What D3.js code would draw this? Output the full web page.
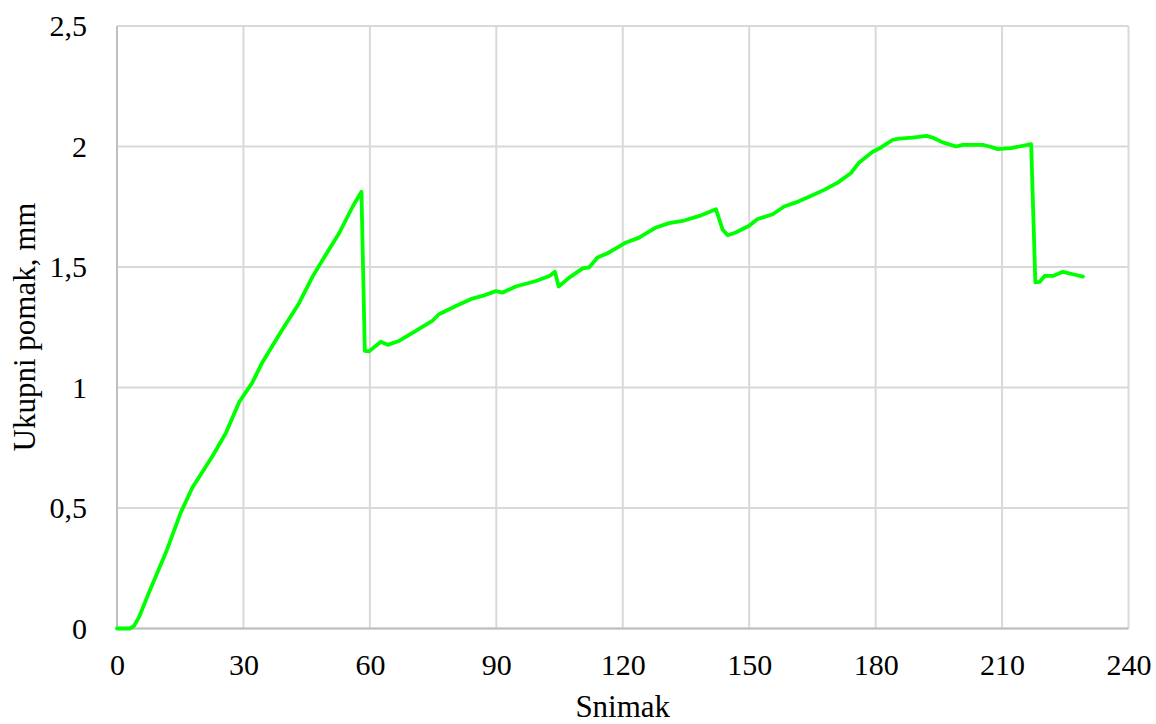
<!DOCTYPE html>
<html>
<head>
<meta charset="utf-8">
<script src="https://cdn.jsdelivr.net/npm/d3@7"></script>
<style>
  html, body { margin: 0; padding: 0; background: #fff; }
  text { font-family: "Liberation Serif", "Times New Roman", serif; fill: #000; }
</style>
</head>
<body>
<div id="chart"></div>
<script>
// frame number (Snimak) and total displacement (Ukupni pomak, mm)
const snimak = [0, 3, 4, 5.2, 7.6, 11.6, 15.1, 17.9, 22.6, 25.8, 29, 32.1, 34.5, 39.2, 43.2, 46.4, 49.5, 52.7, 55.9, 58,
  58.8, 59.8, 62.6, 64.2, 66.9, 70.9, 74.8, 76.4, 80.4, 84.3, 86.7, 89.9, 91.5, 94.6, 99.4, 102.6, 103.9,
  104.8, 107.3, 110.5, 112, 114, 116.4, 118.4, 120.8, 123.9, 127.9, 131, 134.2, 138.2, 142.1,
  143.7, 144.9, 146.8, 150, 152, 155.6, 158.3, 161.1, 165, 167.8, 171, 174.1, 176.1, 179.3, 181.3,
  184.1, 185.6, 188.8, 192, 193.5, 195.9, 199.1, 200.7, 205.4, 207, 209, 212.1, 214.1, 216.9,
  217.9, 218.9, 220.1, 222.1, 224.4, 226.8, 229.2];
const pomak = [0, 0, 0.01, 0.046, 0.15, 0.315, 0.48, 0.585, 0.714, 0.81, 0.94, 1.02, 1.105, 1.24, 1.35, 1.46, 1.55, 1.64, 1.75, 1.812,
  1.152, 1.15, 1.19, 1.177, 1.193, 1.235, 1.276, 1.304, 1.338, 1.369, 1.38, 1.40, 1.394, 1.419, 1.442, 1.463, 1.48,
  1.419, 1.456, 1.494, 1.498, 1.539, 1.557, 1.577, 1.602, 1.622, 1.664, 1.682, 1.691, 1.712, 1.74,
  1.655, 1.632, 1.643, 1.671, 1.699, 1.719, 1.751, 1.768, 1.798, 1.82, 1.85, 1.889, 1.934, 1.978, 1.996,
  2.028, 2.033, 2.037, 2.044, 2.037, 2.017, 2.0, 2.007, 2.007, 2.0, 1.989, 1.993, 2.0, 2.01,
  1.436, 1.438, 1.463, 1.463, 1.48, 1.47, 1.46];

const xTicks = [0, 30, 60, 90, 120, 150, 180, 210, 240];
const yTicks = [0, 0.5, 1, 1.5, 2, 2.5];

const width = 1156,
  height = 724;
const margin = { top: 26, right: 27.5, bottom: 95.5, left: 117 };
const innerW = width - margin.left - margin.right,
  innerH = height - margin.top - margin.bottom;

const svg = d3.select("#chart")
  .append("svg")
  .attr("width", width)
  .attr("height", height);

const g = svg.append("g")
  .attr("transform", `translate(${margin.left},${margin.top})`);

const x = d3.scaleLinear().domain([0, 240]).range([0, innerW]);
const y = d3.scaleLinear().domain([0, 2.5]).range([innerH, 0]);

const fmt = d => String(d).replace(".", ",");

// gridlines
g.append("g")
  .selectAll("line.vg")
  .data(xTicks)
  .join("line")
  .attr("x1", d => x(d)).attr("x2", d => x(d))
  .attr("y1", 0).attr("y2", innerH)
  .attr("stroke", "#d9d9d9")
  .attr("stroke-width", 2);

g.append("g")
  .selectAll("line.hg")
  .data(yTicks)
  .join("line")
  .attr("x1", 0).attr("x2", innerW)
  .attr("y1", d => y(d)).attr("y2", d => y(d))
  .attr("stroke", "#d9d9d9")
  .attr("stroke-width", 2);

// axis lines
g.append("line")
  .attr("x1", 0).attr("x2", 0).attr("y1", 0).attr("y2", innerH)
  .attr("stroke", "#bfbfbf").attr("stroke-width", 2);
g.append("line")
  .attr("x1", 0).attr("x2", innerW).attr("y1", innerH).attr("y2", innerH)
  .attr("stroke", "#bfbfbf").attr("stroke-width", 2);

// tick labels
const xAxis = g.append("g")
  .attr("transform", `translate(0,${innerH})`)
  .call(d3.axisBottom(x).tickValues(xTicks).tickFormat(fmt).tickSize(0).tickPadding(25));
const yAxis = g.append("g")
  .call(d3.axisLeft(y).tickValues(yTicks).tickFormat(fmt).tickSize(0).tickPadding(30));

[xAxis, yAxis].forEach(a => {
  a.select(".domain").remove();
  a.selectAll("text")
    .style("font-family", '"Liberation Serif", "Times New Roman", serif')
    .style("font-size", "30px")
    .attr("fill", "#000");
});

// the series
const line = d3.line()
  .x((d, i) => x(snimak[i]))
  .y(d => y(d));

g.append("path")
  .datum(pomak)
  .attr("d", line)
  .attr("fill", "none")
  .attr("stroke", "#00ff00")
  .attr("stroke-width", 3.8)
  .attr("stroke-linejoin", "round")
  .attr("stroke-linecap", "round");

// axis titles
svg.append("text")
  .attr("x", margin.left + innerW / 2)
  .attr("y", 717)
  .attr("text-anchor", "middle")
  .style("font-size", "31px")
  .text("Snimak");

svg.append("text")
  .attr("transform", "translate(35,327) rotate(-90)")
  .attr("text-anchor", "middle")
  .style("font-size", "31px")
  .text("Ukupni pomak, mm");
</script>
</body>
</html>
